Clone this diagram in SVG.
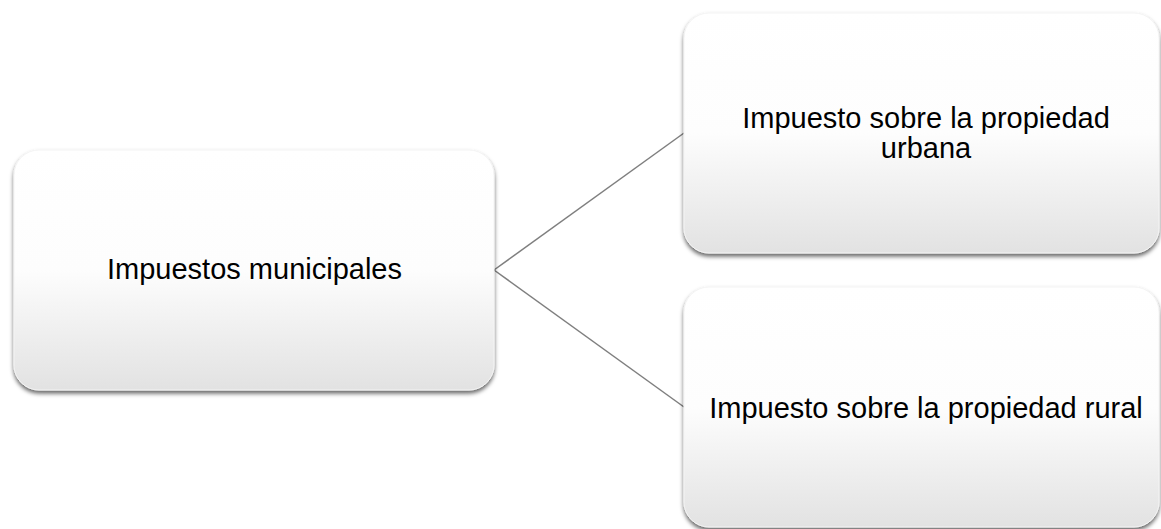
<svg xmlns="http://www.w3.org/2000/svg" width="1161" height="529" viewBox="0 0 1161 529">
<style>
.box{fill:url(#g);stroke:#f4f4f4;stroke-width:1;filter:url(#sh)}
.t{font-family:"Liberation Sans",Arial,sans-serif;font-size:29px;fill:#000;text-anchor:middle}
.c{stroke:#7f7f7f;stroke-width:1.5;fill:none}
</style>
<defs>
<linearGradient id="g" x1="0" y1="0" x2="0" y2="1">
<stop offset="0" stop-color="#ffffff"/>
<stop offset="0.5" stop-color="#fdfdfd"/>
<stop offset="1" stop-color="#e2e2e2"/>
</linearGradient>
<filter id="sh" x="-10%" y="-10%" width="120%" height="130%">
<feDropShadow dx="0" dy="3" stdDeviation="2.2" flood-color="#000" flood-opacity="0.6"/>
</filter>
</defs>
<rect width="1161" height="529" fill="#fff"/>
<g id="connectors">
<line class="c" x1="494" y1="270" x2="684" y2="133"/>
<line class="c" x1="494" y1="270" x2="684" y2="407"/>
</g>
<g id="n-municipales">
<rect class="box" x="14" y="150" width="480" height="240" rx="25"/>
<text class="t" x="254.5" y="279">Impuestos municipales</text>
</g>
<g id="n-urbana">
<rect class="box" x="684" y="13" width="475" height="240" rx="25"/>
<text class="t" x="926" y="128">Impuesto sobre la propiedad</text>
<text class="t" x="926" y="158">urbana</text>
</g>
<g id="n-rural">
<rect class="box" x="684" y="287" width="475" height="240" rx="25"/>
<text class="t" x="926" y="418">Impuesto sobre la propiedad rural</text>
</g>
</svg>
